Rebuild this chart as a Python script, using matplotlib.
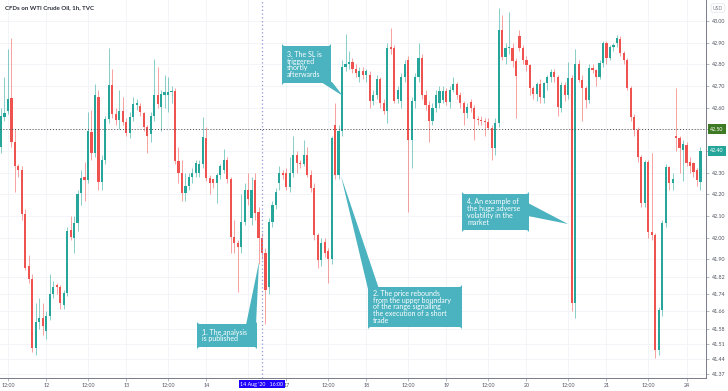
import numpy as np
import matplotlib.pyplot as plt
import matplotlib.transforms as mtransforms
from matplotlib.patches import FancyBboxPatch, Polygon

plt.rcParams['font.family'] = ['Lato', 'DejaVu Sans']

# hourly WTI candles (first candle = 11 Aug 10:00)
opens = [
    42.42, 42.556, 42.585, 42.645, 42.44, 42.33, 42.31, 42.11, 41.87, 41.81,
    41.49, 41.61, 41.63, 41.57, 41.64, 41.74, 41.78, 41.77, 41.69, 41.745,
    42.035, 42.0, 42.067, 42.206, 42.28, 42.266, 42.488, 42.39, 42.65, 42.256,
    42.358, 42.548, 42.705, 42.57, 42.543, 42.585, 42.534, 42.483, 42.557, 42.61,
    42.607, 42.575, 42.51, 42.48, 42.56, 42.66, 42.603, 42.66, 42.66, 42.672,
    42.677, 42.353, 42.30, 42.206, 42.24, 42.28, 42.30, 42.30, 42.34, 42.46,
    42.275, 42.27, 42.25, 42.29, 42.31, 42.358, 42.27, 42.003, 41.975, 41.957,
    42.072, 42.22, 42.09, 42.266, 42.118, 42.0, 41.93, 41.77, 42.07, 42.15,
    42.25, 42.30, 42.30, 42.235, 42.30, 42.38, 42.345, 42.34, 42.38, 42.29,
    42.23, 42.01, 41.897, 41.98, 41.94, 41.90, 42.52, 42.29, 42.49, 42.79,
    42.80, 42.81, 42.78, 42.74, 42.77, 42.75, 42.75, 42.63, 42.66, 42.73,
    42.62, 42.585, 42.88, 42.875, 42.64, 42.63, 42.74, 42.82, 42.45, 42.63,
    42.74, 42.83, 42.66, 42.61, 42.54, 42.60, 42.621, 42.635, 42.677, 42.626,
    42.681, 42.709, 42.658, 42.621, 42.575, 42.626, 42.598, 42.548, 42.543, 42.538,
    42.534, 42.506, 42.414, 42.529, 42.958, 42.834, 42.875, 42.875, 42.815, 42.931,
    42.875, 42.82, 42.797, 42.691, 42.663, 42.709, 42.645, 42.714, 42.741, 42.765,
    42.741, 42.598, 42.705, 42.658, 42.737, 41.70, 42.801, 42.728, 42.691, 42.635,
    42.783, 42.774, 42.741, 42.806, 42.898, 42.829, 42.88, 42.898, 42.917, 42.852,
    42.82, 42.691, 42.557, 42.497, 42.372, 42.16, 42.349, 42.026, 42.012, 41.481,
    41.666, 42.067, 42.326, 42.25, 42.469, 42.46, 42.405, 42.428, 42.35, 42.344,
    42.31, 42.257,
]
highs = [
    42.60, 42.74, 42.87, 42.92, 42.50, 42.34, 42.33, 42.13, 41.92, 41.83,
    41.70, 41.72, 41.70, 41.66, 41.83, 41.80, 41.79, 41.78, 41.76, 42.05,
    42.10, 42.10, 42.22, 42.31, 42.35, 42.58, 42.59, 42.71, 42.68, 42.38,
    42.56, 42.875, 42.78, 42.60, 42.68, 42.65, 42.55, 42.58, 42.65, 42.64,
    42.62, 42.58, 42.52, 42.58, 42.825, 42.79, 42.68, 42.75, 42.74, 42.70,
    42.69, 42.42, 42.36, 42.30, 42.30, 42.32, 42.36, 42.36, 42.557, 42.51,
    42.29, 42.27, 42.30, 42.34, 42.41, 42.37, 42.28, 42.08, 41.99, 42.20,
    42.25, 42.30, 42.28, 42.30, 42.14, 42.02, 41.95, 42.09, 42.17, 42.23,
    42.33, 42.31, 42.32, 42.37, 42.47, 42.40, 42.36, 42.45, 42.42, 42.31,
    42.25, 42.02, 42.00, 42.00, 41.95, 42.47, 42.62, 42.52, 42.82, 42.94,
    42.86, 42.83, 42.80, 42.79, 42.79, 42.78, 42.77, 42.68, 42.75, 42.74,
    42.64, 42.90, 42.97, 42.89, 42.70, 42.76, 42.82, 42.84, 42.65, 42.76,
    42.90, 42.85, 42.68, 42.63, 42.62, 42.68, 42.70, 42.70, 42.69, 42.70,
    42.741, 42.72, 42.67, 42.63, 42.62, 42.64, 42.61, 42.56, 42.56, 42.55,
    42.55, 42.52, 42.55, 43.06, 43.03, 42.90, 43.04, 42.90, 42.83, 42.96,
    42.89, 42.84, 42.80, 42.70, 42.72, 42.73, 42.72, 42.75, 42.78, 42.78,
    42.75, 42.72, 42.72, 42.81, 42.75, 42.87, 42.82, 42.75, 42.70, 42.80,
    42.80, 42.78, 42.82, 42.91, 42.91, 42.89, 42.90, 42.935, 42.93, 42.86,
    42.83, 42.70, 42.57, 42.51, 42.38, 42.36, 42.36, 42.39, 42.02, 41.68,
    42.08, 42.34, 42.33, 42.30, 42.69, 42.47, 42.45, 42.44, 42.37, 42.35,
    42.32, 42.42,
]
lows = [
    42.39, 42.54, 42.57, 42.42, 42.21, 42.28, 42.08, 41.85, 41.79, 41.47,
    41.46, 41.58, 41.55, 41.53, 41.62, 41.72, 41.74, 41.67, 41.67, 41.73,
    41.99, 41.93, 42.03, 42.15, 42.17, 42.25, 42.36, 42.37, 42.22, 42.22,
    42.34, 42.53, 42.55, 42.52, 42.50, 42.52, 42.47, 42.46, 42.54, 42.59,
    42.56, 42.49, 42.39, 42.44, 42.54, 42.60, 42.49, 42.60, 42.58, 42.62,
    42.34, 42.25, 42.17, 42.17, 42.22, 42.25, 42.28, 42.28, 42.32, 42.26,
    42.20, 42.23, 42.16, 42.27, 42.30, 42.25, 41.93, 41.93, 41.75, 41.93,
    42.06, 42.15, 42.06, 42.08, 41.88, 41.90, 41.60, 41.74, 42.05, 42.13,
    42.22, 42.27, 42.22, 42.21, 42.28, 42.30, 42.32, 42.33, 42.28, 42.21,
    41.99, 41.86, 41.87, 41.91, 41.79, 41.88, 42.27, 42.27, 42.47, 42.77,
    42.78, 42.76, 42.74, 42.72, 42.73, 42.72, 42.60, 42.61, 42.64, 42.60,
    42.57, 42.53, 42.85, 42.62, 42.62, 42.60, 42.72, 42.12, 42.32, 42.60,
    42.72, 42.64, 42.59, 42.44, 42.52, 42.58, 42.60, 42.62, 42.61, 42.60,
    42.67, 42.64, 42.60, 42.52, 42.55, 42.58, 42.45, 42.52, 42.52, 42.47,
    42.50, 42.358, 42.38, 42.51, 42.82, 42.80, 42.85, 42.79, 42.55, 42.86,
    42.80, 42.77, 42.66, 42.64, 42.63, 42.62, 42.62, 42.68, 42.72, 42.72,
    42.56, 42.58, 42.63, 42.64, 41.66, 41.63, 42.72, 42.54, 42.60, 42.62,
    42.76, 42.70, 42.73, 42.79, 42.80, 42.82, 42.86, 42.88, 42.84, 42.80,
    42.68, 42.54, 42.47, 42.35, 42.14, 42.14, 42.00, 41.99, 41.444, 41.46,
    41.64, 42.05, 42.22, 42.22, 42.40, 42.30, 42.26, 42.33, 42.30, 42.28,
    42.24, 42.22,
]
closes = [
    42.56, 42.575, 42.64, 42.44, 42.33, 42.31, 42.11, 41.86, 41.81, 41.49,
    41.61, 41.63, 41.59, 41.64, 41.74, 41.77, 41.77, 41.70, 41.745, 42.03,
    42.005, 42.067, 42.20, 42.275, 42.266, 42.49, 42.39, 42.66, 42.256, 42.358,
    42.548, 42.705, 42.57, 42.543, 42.585, 42.534, 42.483, 42.557, 42.617, 42.62,
    42.58, 42.51, 42.47, 42.56, 42.66, 42.617, 42.663, 42.67, 42.672, 42.677,
    42.353, 42.30, 42.206, 42.24, 42.28, 42.30, 42.345, 42.34, 42.465, 42.275,
    42.25, 42.25, 42.29, 42.33, 42.358, 42.27, 42.003, 41.975, 41.957, 42.072,
    42.22, 42.18, 42.22, 42.114, 42.0, 41.93, 41.76, 42.07, 42.15, 42.21,
    42.30, 42.29, 42.235, 42.30, 42.38, 42.345, 42.34, 42.38, 42.29, 42.23,
    42.01, 41.897, 41.975, 41.93, 41.90, 42.46, 42.29, 42.49, 42.79, 42.80,
    42.81, 42.78, 42.76, 42.77, 42.75, 42.77, 42.63, 42.66, 42.73, 42.62,
    42.585, 42.875, 42.87, 42.63, 42.68, 42.74, 42.80, 42.45, 42.63, 42.74,
    42.83, 42.66, 42.61, 42.54, 42.60, 42.66, 42.677, 42.677, 42.626, 42.681,
    42.709, 42.658, 42.621, 42.575, 42.603, 42.598, 42.548, 42.543, 42.538, 42.534,
    42.506, 42.414, 42.529, 42.958, 42.834, 42.875, 42.88, 42.815, 42.746, 42.875,
    42.82, 42.797, 42.691, 42.663, 42.709, 42.649, 42.714, 42.741, 42.765, 42.741,
    42.603, 42.705, 42.658, 42.737, 41.70, 42.801, 42.728, 42.691, 42.635, 42.783,
    42.774, 42.741, 42.806, 42.898, 42.829, 42.88, 42.89, 42.92, 42.852, 42.82,
    42.691, 42.557, 42.497, 42.372, 42.16, 42.349, 42.026, 42.012, 41.481, 41.666,
    42.067, 42.326, 42.252, 42.27, 42.46, 42.414, 42.43, 42.344, 42.33, 42.303,
    42.266, 42.40,
]

time_ticks = [2, 13, 25, 36, 48, 59, 82, 94, 105, 117, 128, 140, 151, 163, 174, 186, 197]
time_labels = ["12:00", "12", "12:00", "13", "12:00", "14", "17", "12:00", "18",
               "12:00", "19", "12:00", "20", "12:00", "21", "12:00", "24"]
price_ticks = [43.00, 42.90, 42.80, 42.70, 42.60, 42.50, 42.40, 42.30, 42.20, 42.10,
               42.00, 41.90, 41.82, 41.74, 41.66, 41.58, 41.51, 41.44, 41.37]
cursor_idx = 75
cursor_text = "14 Aug '20   16:00"
level_price = 42.50

notes = [
    "1. The analysis\nis published",
    "2. The price rebounds\nfrom the upper boundary\nof the range signalling\nthe execution of a short\ntrade",
    "3. The SL is\ntriggered\nshortly\nafterwards",
    "4. An example of\nthe huge adverse\nvolatility in the\nmarket",
]

UP, DOWN = '#26a69a', '#ef5350'
NOTE = '#4ab3bf'
W, H = 728, 391

fig = plt.figure(figsize=(W / 100, H / 100), dpi=100)
ax = fig.add_axes([0, 13 / H, 706 / W, 378 / H])
# pixel coords of the screenshot (origin top-left) for the overlay boxes
pix = mtransforms.Affine2D().scale(1 / W, -1 / H).translate(0, 1) + fig.transFigure

o = np.array(opens)
c = np.array(closes)
hi = np.array(highs)
lo = np.array(lows)
idx = np.arange(len(c))
col = np.where(c >= o, UP, DOWN)

for p in price_ticks:
    ax.axhline(p, color='#f0f2f6', lw=0.6, zorder=0)
for t in time_ticks + [71]:
    ax.axvline(t, color='#f0f2f6', lw=0.6, zorder=0)

ax.vlines(idx, lo, hi, colors=col, lw=0.7, alpha=0.55, zorder=2)
ax.bar(idx, np.maximum(np.abs(c - o), 0.004), bottom=np.minimum(o, c),
       width=0.62, color=col, lw=0, zorder=3)

ax.axhline(level_price, color='#4a4a4a', ls=(0, (1, 2)), lw=0.7, zorder=4)
ax.axvline(cursor_idx, color='#8f96d8', ls=(0, (1, 2)), lw=0.9, zorder=4)

ax.set_xlim(-0.29, 202.6)
ax.set_ylim(41.352, 43.097)
ax.set_xticks(time_ticks)
ax.set_xticklabels(time_labels)
ax.set_yticks(price_ticks)
# the two price tags sit on top of these levels
ax.set_yticklabels(['' if p in (level_price, round(c[-1], 2)) else f"{p:.2f}"
                    for p in price_ticks])
ax.yaxis.tick_right()
ax.tick_params(axis='y', direction='out', length=2.5, width=0.5, pad=1.5,
               labelsize=3.8, labelcolor='#50535e', color='#9598a1')
ax.tick_params(axis='x', direction='out', length=2, width=0.5, pad=1.5,
               labelsize=3.8, labelcolor='#50535e', color='#9598a1')
for s in ['top', 'left']:
    ax.spines[s].set_visible(False)
for s in ['right', 'bottom']:
    ax.spines[s].set_color('#787b86')
    ax.spines[s].set_linewidth(0.7)

# price tags on the right axis
yax = ax.get_yaxis_transform()
for price, fc in [(level_price, '#3f7b24'), (c[-1], UP)]:
    ax.text(1.006, price, f"{price:.2f}", transform=yax, fontsize=3.8,
            color='white', va='center', ha='left', clip_on=False, zorder=6,
            bbox=dict(boxstyle='square,pad=0.5', fc=fc, ec='none'))

# crosshair time label
xax = ax.get_xaxis_transform()
ax.text(cursor_idx, -0.016, cursor_text, transform=xax, fontsize=3.8,
        color='white', va='center', ha='center', clip_on=False, zorder=6,
        bbox=dict(boxstyle='square,pad=0.3', fc='#1f00ff', ec='none'))

fig.text(5 / W, 1 - 8 / H, "CFDs on WTI Crude Oil, 1h, TVC", fontsize=4.4,
         color='#2a2e39', va='center', ha='left', fontweight='bold')
fig.text(718 / W, 1 - 8 / H, "USD", fontsize=3.6, color='#787b86', va='center', ha='center',
         bbox=dict(boxstyle='round,pad=0.35,rounding_size=0.3', fc='white', ec='#e0e3eb', lw=0.5))

# annotation boxes: (left, top, right, bottom) and pointer triangle, in screenshot pixels
boxes = [(197, 324, 257, 347), (368, 287, 462, 327), (282, 46, 331, 83), (462, 194, 529, 230)]
pointers = [
    [(246, 325), (256, 325), (259, 262)],
    [(368, 289), (379, 289), (341, 176)],
    [(321, 82), (332, 82), (343, 96)],
    [(528, 203), (528, 216), (568, 224)],
]
for text, (x0, y0, x1, y1), tri in zip(notes, boxes, pointers):
    fig.patches.append(Polygon(tri, closed=True, transform=pix, fc=NOTE, ec='none', zorder=7))
    fig.patches.append(FancyBboxPatch((x0, y1), x1 - x0, y0 - y1, transform=pix,
                                      boxstyle='round,pad=0,rounding_size=3',
                                      fc=NOTE, ec='none', zorder=7))
    fig.text(x0 + 5, (y0 + y1) / 2, text, transform=pix, fontsize=5.0, color='white',
             va='center', ha='left', linespacing=0.95, zorder=8)

fig.savefig("out.png", dpi=100)
